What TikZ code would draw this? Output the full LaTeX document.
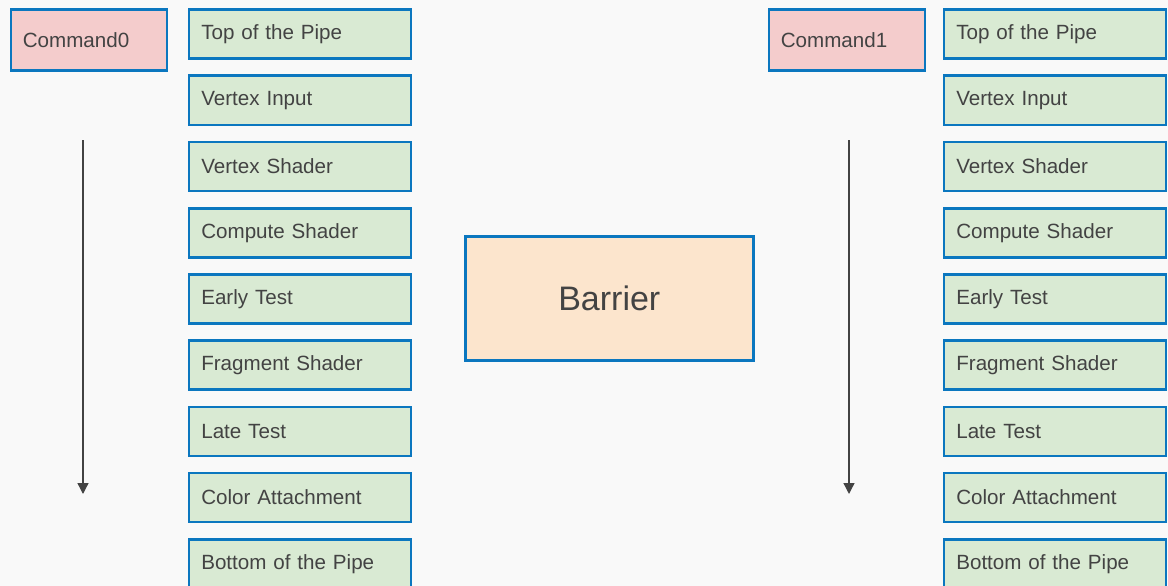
\documentclass[tikz,border=0pt]{standalone}
\usepackage{fontspec}
\setmainfont{Liberation Sans}
\usetikzlibrary{arrows.meta}
\definecolor{bg}{HTML}{F9F9F9}
\definecolor{edge}{HTML}{0B77BF}
\definecolor{stagefill}{HTML}{D9EAD3}
\definecolor{cmdfill}{HTML}{F4CCCC}
\definecolor{barrierfill}{HTML}{FCE5CD}
\definecolor{ink}{HTML}{434343}
\begin{document}
\begin{tikzpicture}[x=1pt,y=-1pt,
  box/.style={draw=edge, line width=2.6pt, anchor=north west, text=ink},
  stage/.style={box, fill=stagefill, minimum width=222pt, minimum height=49pt,
    text width=197pt, inner xsep=12.5pt, align=left,
    font=\fontsize{20.6}{24}\selectfont},
  cmd/.style={box, fill=cmdfill, minimum width=156pt, minimum height=61pt,
    text width=132pt, inner xsep=12pt, align=left,
    font=\fontsize{20.6}{24}\selectfont},
  barrierbox/.style={box, fill=barrierfill, minimum width=288pt, minimum height=124pt,
    font=\fontsize{34}{40}\selectfont},
  flow/.style={draw=ink, line width=1.3pt, -{Triangle[width=11pt,length=11pt]}}]
\useasboundingbox (0,0) rectangle (1168,586);
\clip (0,0) rectangle (1168,586);
\fill[bg] (0,0) rectangle (1168,586);

% command buffers
\node[cmd] (cmd0) at (9.5,8) {Command0};
\node[cmd] (cmd1) at (767.5,8) {Command1};

% pipeline stages for each command
\foreach \name [count=\i from 0] in {Top of the Pipe, Vertex Input, Vertex Shader,
    Compute Shader, Early Test, Fragment Shader, Late Test, Color Attachment,
    Bottom of the Pipe} {
  \node[stage] (l\i) at (187.5, 8.3+66.2*\i) {\name};
  \node[stage] (r\i) at (942.5, 8.3+66.2*\i) {\name};
}

% barrier between the two commands
\node[barrierbox] (barrier) at (464,235) {Barrier};

% execution order arrows
\coordinate (a0s) at (83,140);
\coordinate (a0e) at (83,494);
\coordinate (a1s) at (849,140);
\coordinate (a1e) at (849,494);
\draw[flow] (a0s) -- (a0e);
\draw[flow] (a1s) -- (a1e);
\end{tikzpicture}
\end{document}
